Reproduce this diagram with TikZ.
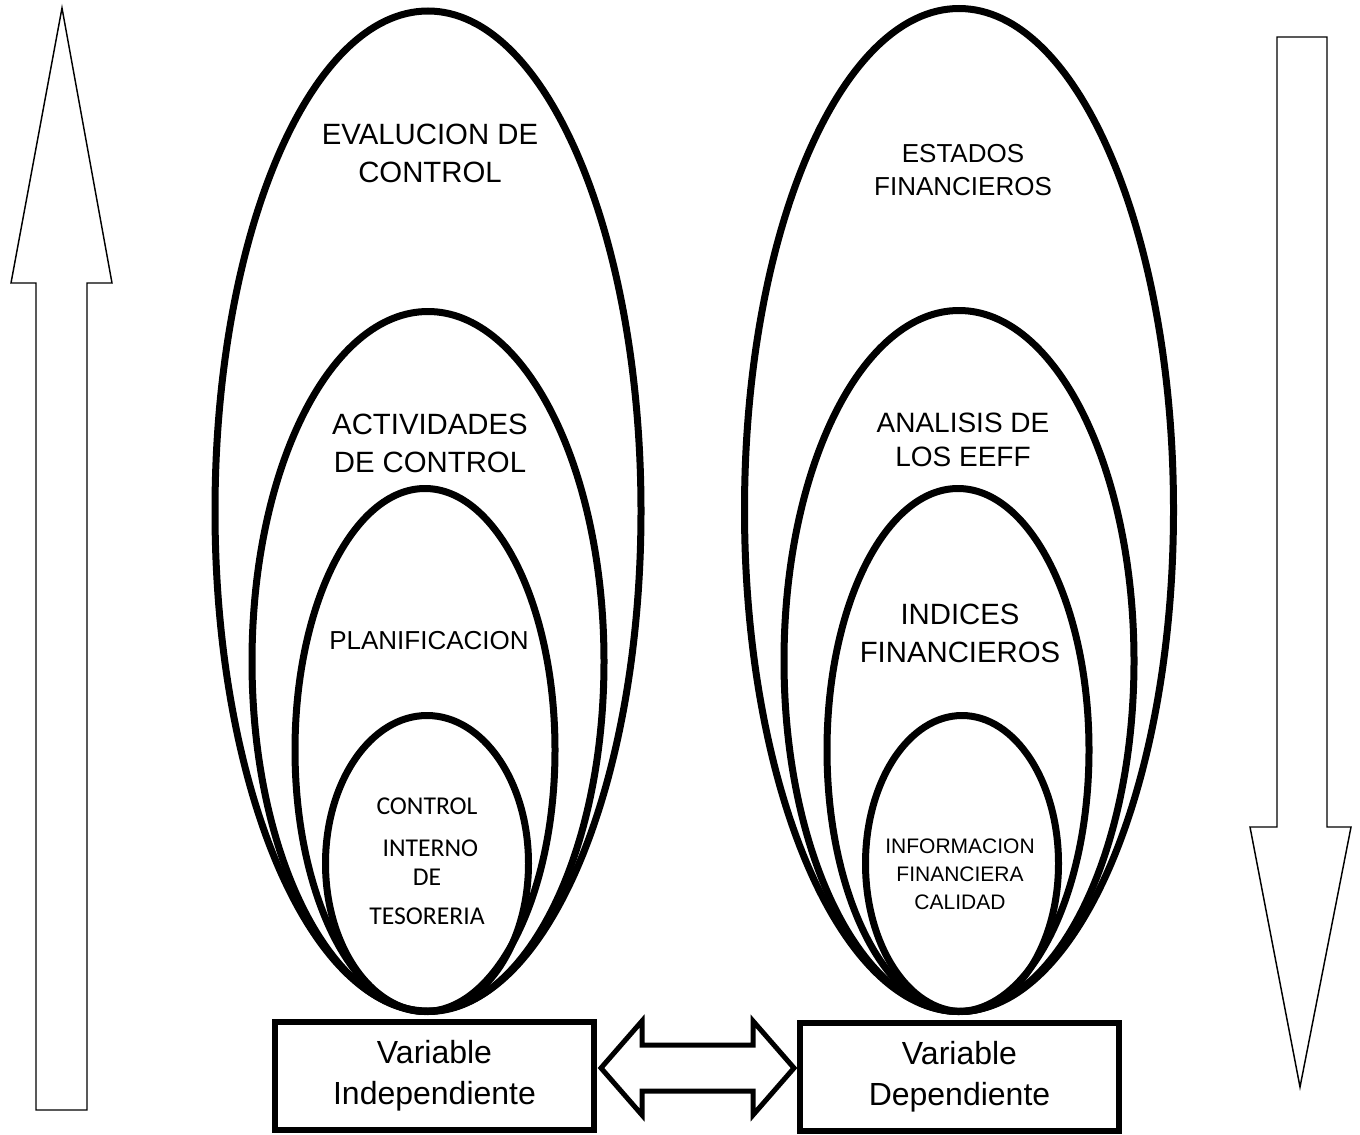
\documentclass[tikz,border=0pt]{standalone}
\usepackage{fontspec}
\setmainfont{Liberation Sans}
\newfontfamily\calibrifont{Carlito}

\tikzset{
    ring/.style={line width = 5.25pt},
    thinarrow/.style={line width = 1.1pt, line join=miter},
    linkarrow/.style={line width = 3.75pt, line join=miter},
    varbox/.style={draw, line width = 4.5pt, fill=white, minimum width=239pt, minimum height=81pt,
        align=center, inner sep=0pt, font=\fontsize{24}{31}\selectfont},
    bigtext/.style={align=center, inner sep=0pt, font=\fontsize{22}{28.5}\selectfont},
    midtext/.style={align=center, inner sep=0pt, font=\fontsize{19.5}{25}\selectfont},
    smalltext/.style={align=center, inner sep=0pt, font=\fontsize{15.75}{21}\selectfont},
    caltext/.style={align=center, inner sep=0pt, font=\calibrifont\fontsize{19.25}{21.75}\selectfont}
}

\begin{document}
\begin{tikzpicture}[x=0.75pt, y=-0.75pt]

    \useasboundingbox (0,0) rectangle (1360,1135);

    % arrows at the sides
    \draw[thinarrow] (62,8) -- (112,283) -- (87,283) -- (87,1110) -- (36,1110) -- (36,283) -- (11,283) -- cycle;
    \draw[thinarrow] (1277,37) -- (1327,37) -- (1327,827) -- (1351,827) -- (1300,1087) -- (1250,827) -- (1277,827) -- cycle;

    % left ovals
    \draw[ring] (428,511) ellipse [x radius=213, y radius=500];
    \draw[ring] (428,661.5) ellipse [x radius=176, y radius=350];
    \draw[ring] (425,750) ellipse [x radius=130, y radius=261.5];
    \draw[ring] (427,863.5) ellipse [x radius=101.5, y radius=148];

    % right ovals
    \draw[ring] (959,510) ellipse [x radius=214.5, y radius=501.5];
    \draw[ring] (959,661) ellipse [x radius=175, y radius=350.5];
    \draw[ring] (958,750) ellipse [x radius=131, y radius=261.5];
    \draw[ring] (962,863.5) ellipse [x radius=96.5, y radius=148];

    % texts
    \node[bigtext] (evaluacion) at (430,153.5) {EVALUCION DE\\CONTROL};
    \node[bigtext] (actividades) at (430,443) {ACTIVIDADES\\DE CONTROL};
    \node[midtext] (planificacion) at (429,641) {PLANIFICACION};
    \node[caltext] (control) at (427,861) {CONTROL\\[9.75pt]\hspace*{5pt}INTERNO\\DE\\[7.5pt]TESORERIA};

    \node[midtext] (estados) at (963,170) {ESTADOS\\FINANCIEROS};
    \node[bigtext, font=\fontsize{21}{25.5}\selectfont] (analisis) at (963,440) {ANALISIS DE\\LOS EEFF};
    \node[bigtext] (indices) at (960,633) {INDICES\\FINANCIEROS};
    \node[smalltext] (informacion) at (960,874) {INFORMACION\\FINANCIERA\\CALIDAD};

    % variables
    \node[varbox] (indep) at (434.5,1075.5) {Variable\\Independiente};
    \node[varbox] (dep) at (959.5,1076.5) {Variable\\Dependiente};

    \draw[linkarrow] (601,1068) -- (642,1021) -- (642,1045) -- (753,1045) -- (753,1021) -- (794,1068)
        -- (753,1115) -- (753,1091) -- (642,1091) -- (642,1115) -- cycle;

\end{tikzpicture}
\end{document}
